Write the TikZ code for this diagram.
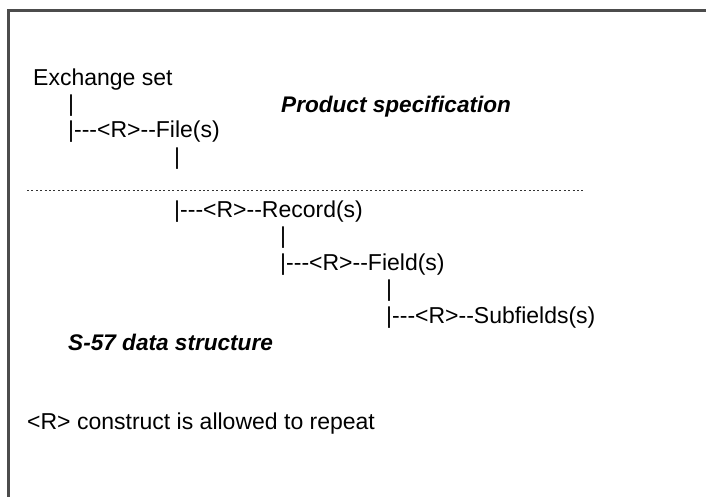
\documentclass[tikz,border=0pt]{standalone}
\usepackage{fontspec}
\setmainfont{Liberation Sans}[Ligatures=TeXOff]
\usepackage{tikz}
\usetikzlibrary{positioning}

\begin{document}
\begin{tikzpicture}[
    x=1pt, y=-1pt,
    txt/.style={anchor=base west, inner sep=0pt, font=\fontsize{23}{27}\selectfont},
    title/.style={txt, font=\fontsize{22.6}{27}\selectfont\bfseries\itshape},
    frame/.style={line width=2.5pt, draw=black!70}
]
    \useasboundingbox (0,0) rectangle (706,497);
    \draw[frame] (8.5,497) -- (8.5,10.5) -- (706,10.5);

    % exchange set side
    \node[txt] (exch) at (33,86) {Exchange set};
    \node[txt] (pipeA) at (68,112) {|};
    \node[txt] (file) at (68,138) {|---<R>--File(s)};
    \node[txt] (pipeB) at (174,164.5) {|};
    \node[title] (prod) at (281,112.5) {Product specification};

    \draw[line width=1.9pt, black!80, dash pattern=on 1.9pt off 2.5pt] (27,190.5) -- (583,190.5);

    % data structure side
    \node[txt] (record) at (174,217) {|---<R>--Record(s)};
    \node[txt] (pipeC) at (280,243.5) {|};
    \node[txt] (field) at (280,270) {|---<R>--Field(s)};
    \node[txt] (pipeD) at (386,296.5) {|};
    \node[txt] (subf) at (386,323) {|---<R>--Subfields(s)};
    \node[title] (s57) at (68,350) {S-57 data structure};

    \node[txt] (note) at (27,429) {<R> construct is allowed to repeat};
\end{tikzpicture}
\end{document}
